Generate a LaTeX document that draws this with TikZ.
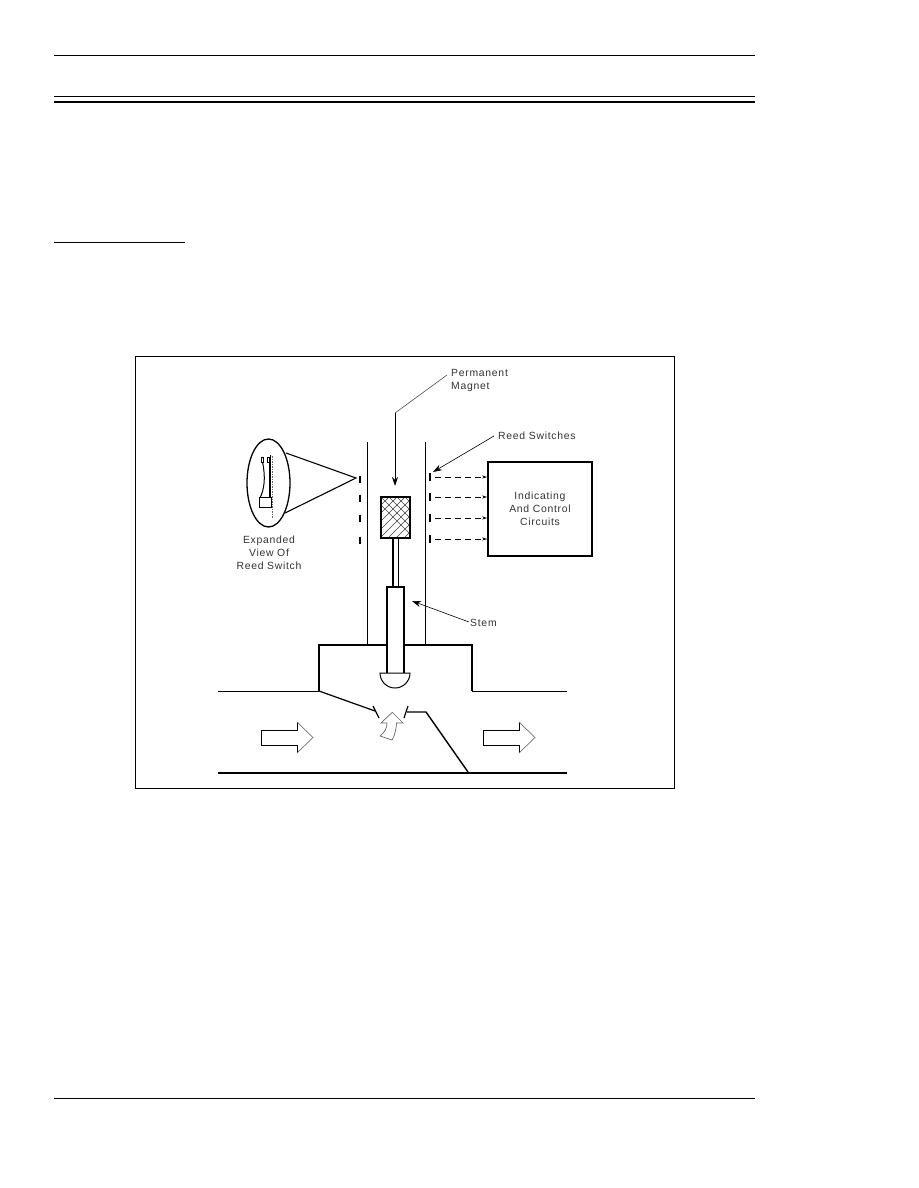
\documentclass[tikz,border=0pt]{standalone}
\usepackage{fontspec}
\setmainfont[LetterSpace=7]{Liberation Sans}
\usetikzlibrary{arrows.meta,calc,shapes.geometric}
\tikzset{
  thinline/.style={draw=black,line width=0.8pt},
  heavyline/.style={draw=black,line width=1.7pt},
  leader/.style={draw=black!70,line width=0.6pt},
  pointer/.style={draw=black,line width=0.9pt,-{Stealth[length=9pt,width=6pt]}},
  signal/.style={draw=black,line width=0.9pt,dash pattern=on 6pt off 4pt,-{Stealth[length=5pt,width=3pt]}},
  flowbody/.style={draw=black,line width=1pt,fill=white},
  flowhead/.style={draw=black!55,line width=0.7pt},
  label/.style={font=\fontsize{10.4}{13}\selectfont,align=center,inner sep=0pt,text=black!80},
  contact/.style={draw=black,line width=1.7pt}
}
\begin{document}
\begin{tikzpicture}[x=1pt,y=-1pt]
\useasboundingbox[fill=white] (0,0) rectangle (918,1188);

% Page rules
\coordinate (ruleAl) at (54,55);    \coordinate (ruleAr) at (755,55);
\coordinate (ruleBl) at (54,96);    \coordinate (ruleBr) at (755,96);
\coordinate (ruleCl) at (54,102);   \coordinate (ruleCr) at (755,102);
\coordinate (ruleDl) at (54,242);   \coordinate (ruleDr) at (185,242);
\coordinate (ruleEl) at (54,1098);  \coordinate (ruleEr) at (755,1098);
\draw[thinline] (ruleAl) -- (ruleAr);
\draw[thinline] (ruleBl) -- (ruleBr);
\draw[heavyline,line width=2.2pt] (ruleCl) -- (ruleCr);
\draw[thinline] (ruleDl) -- (ruleDr);
\draw[thinline] (ruleEl) -- (ruleEr);

% Figure frame
\node[thinline,minimum width=539pt,minimum height=432pt,inner sep=0pt] (frame) at (405,572) {};

% Guide tube above the valve body
\draw[thinline] (367,442) -- (367,645);
\draw[thinline] (425,442) -- (425,645);

% Valve body and pipe walls
\draw[heavyline,line join=miter] (319,691) -- (319,645) -- (472,645) -- (472,691);
\draw[thinline] (218,691) -- (319,691);
\draw[thinline] (472,691) -- (567,691);
\draw[heavyline] (218,773) -- (567,773);
\draw[draw=black,line width=1.2pt] (319,691) -- (375,711);
\draw[draw=black,line width=1.2pt] (373,706) -- (379,718);
\draw[draw=black,line width=1.2pt] (408,706) -- (404,718);
\draw[draw=black,line width=1.4pt] (407,712) -- (426,712) -- (468,772);

% Stem, disc and magnet
\draw[fill=white,draw=black,line width=1.7pt] (387,673) -- (387,587) -- (404,587) -- (404,673);
\draw[draw=black,line width=1pt,fill=white] (380,673) -- (410,673) arc[start angle=0,end angle=180,x radius=15pt,y radius=-15pt] -- cycle;
\draw[draw=black,line width=1.3pt] (393,538) -- (393,587);
\draw[draw=black,line width=0.9pt] (398,538) -- (398,587);
\begin{scope}
  \clip (381,497) rectangle (410,538);
  \foreach \d in {-8,0,...,104}{
    \draw[draw=black!75,line width=0.5pt] (381,497+\d) -- ++(45,-45);
    \draw[draw=black!75,line width=0.5pt] (381,497-\d) -- ++(45,45);
  }
\end{scope}
\node[draw=black,line width=1.6pt,minimum width=29pt,minimum height=41pt,inner sep=0pt] (magnet) at (395.5,517.5) {};

% Reed switches beside the tube
\foreach \yy [count=\i] in {479,498,518,540}{
  \coordinate (swL\i a) at (360,\yy-3.5);
  \coordinate (swL\i b) at (360,\yy+3.5);
  \draw[contact,line width=2.4pt] (swL\i a) -- (swL\i b);
}
\foreach \yy [count=\i] in {477,497,518,539}{
  \coordinate (swR\i a) at (430,\yy-4);
  \coordinate (swR\i b) at (430,\yy+4);
  \draw[contact,line width=1.4pt] (swR\i a) -- (swR\i b);
}

% Indicating and control box with its signal lines
\node[draw=black,line width=1.7pt,minimum width=104pt,minimum height=94pt,inner sep=0pt,
      label,font=\fontsize{10.4}{13.3}\selectfont] (box) at (540,509)
  {\raisebox{-1pt}{Indicating}\\And Control\\Circuits};
\foreach \yy [count=\i] in {477,497,518,539}{
  \coordinate (sigS\i) at (435,\yy);
  \draw[signal] (sigS\i) -- (box.west |- sigS\i);
}

% Expanded view of a switch
\node[draw=black,line width=1.3pt,ellipse,minimum width=43pt,minimum height=88pt,inner sep=0pt] (oval) at (268.5,483) {};
\coordinate (coneTip) at (356,478);
\coordinate (coneA) at (286,453);
\coordinate (coneB) at (285,513);
\draw[draw=black,line width=1.1pt] (coneA) -- (coneTip) -- (coneB);
\draw[draw=black,line width=0.8pt] (261.5,457) rectangle (263.5,462);
\draw[draw=black,line width=0.8pt] (267.5,457) rectangle (269.5,462);
\draw[draw=black,line width=1pt] (262.5,462) .. controls (266,478) and (264,490) .. (260,498);
\draw[draw=black,line width=0.9pt] (269,462) -- (269,498);
\draw[draw=black,line width=0.9pt] (270.5,455) -- (270.5,498);
\draw[draw=black!60,line width=0.9pt,dash pattern=on 1.5pt off 1pt] (272.5,456) -- (272.5,518);
\draw[draw=black,line width=0.9pt,fill=white] (259,497.5) rectangle (271,507);

% Flow arrows
\foreach \ox in {0,222}{
  \begin{scope}[xshift=\ox pt]
    \draw[flowbody,line join=miter] (297,722) -- (297,730) -- (261,730) -- (261,745) -- (297,745) -- (297,753);
    \draw[flowhead] (297,722) -- (313,737.5) -- (297,753);
  \end{scope}
}
\draw[draw=black!60,line width=0.7pt,fill=white] (392.3,712.3) -- (403,723) -- (396.5,723) .. controls (396,731) and (394.5,736) .. (392,740)
  -- (380,736) .. controls (385,732) and (387,728) .. (387,723) -- (381,723) -- cycle;

% Labels and their leaders
\node[label,align=left,anchor=west] (lblMagnet) at (451,380.5) {Permanent\\Magnet};
\node[label,anchor=west] (lblReed) at (498,436) {Reed Switches};
\node[label,anchor=west] (lblStem) at (470,623) {Stem};
\node[label] (lblView) at (269,553) {Expanded\\View Of\\Reed Switch};
\coordinate (magnetStart) at (447,375);
\coordinate (magnetBend) at (395,413);
\coordinate (magnetTip) at (395,486);
\coordinate (reedStart) at (494,436);
\coordinate (reedTip) at (433,472);
\coordinate (stemStart) at (469,622);
\coordinate (stemTip) at (412,601);
\draw[leader] (magnetStart) -- (magnetBend);
\draw[pointer] (magnetBend) -- (magnetTip);
\draw[pointer,line width=0.6pt] (reedStart) -- (reedTip);
\draw[pointer,line width=0.6pt] (stemStart) -- (stemTip);
\end{tikzpicture}
\end{document}
